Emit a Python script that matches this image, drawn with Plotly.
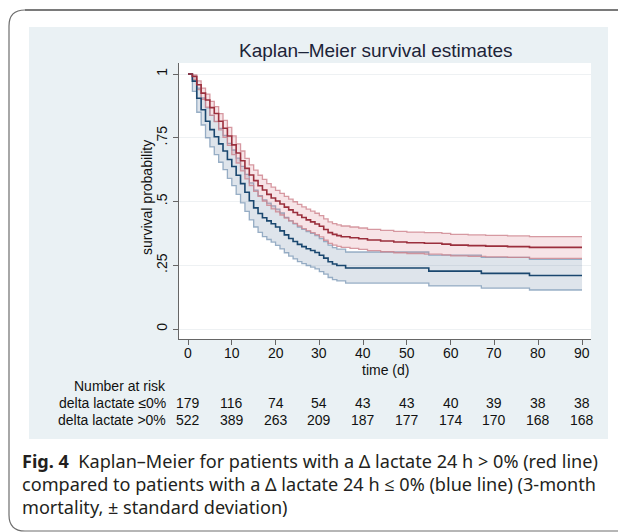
import plotly.graph_objects as go

# ---------------- data ----------------
blue_t = [0, 1, 2, 3, 4, 5, 6, 7, 8, 9, 10, 11, 12, 13, 14, 15, 16, 17, 18, 19, 20,
          21, 22, 23, 24, 25, 26, 27, 28, 29, 30, 31, 32, 33, 34, 36, 55, 67, 78, 90]
blue_s = [1.000, 0.972, 0.905, 0.860, 0.815, 0.782, 0.754, 0.726, 0.698, 0.665, 0.637,
          0.603, 0.570, 0.536, 0.503, 0.475, 0.453, 0.436, 0.424, 0.413, 0.400,
          0.385, 0.369, 0.355, 0.343, 0.332, 0.323, 0.315, 0.308, 0.300, 0.289,
          0.278, 0.264, 0.255, 0.249, 0.239, 0.227, 0.218, 0.210, 0.210]
blue_lo = [1.000, 0.932, 0.850, 0.800, 0.750, 0.714, 0.684, 0.654, 0.625, 0.591, 0.562,
           0.528, 0.495, 0.461, 0.428, 0.400, 0.379, 0.362, 0.351, 0.341, 0.328,
           0.314, 0.299, 0.286, 0.275, 0.264, 0.256, 0.249, 0.243, 0.236, 0.225,
           0.215, 0.202, 0.194, 0.189, 0.180, 0.169, 0.160, 0.153, 0.153]
blue_hi = [1.000, 0.992, 0.945, 0.906, 0.867, 0.838, 0.814, 0.787, 0.759, 0.728, 0.702,
           0.670, 0.638, 0.606, 0.573, 0.545, 0.523, 0.506, 0.494, 0.483, 0.470,
           0.455, 0.438, 0.424, 0.412, 0.400, 0.391, 0.382, 0.375, 0.366, 0.355,
           0.343, 0.329, 0.319, 0.313, 0.302, 0.290, 0.281, 0.273, 0.273]

red_t = [0, 1, 2, 3, 4, 5, 6, 7, 8, 9, 10, 11, 12, 13, 14, 15, 16, 17, 18, 19, 20,
         21, 22, 23, 24, 25, 26, 27, 28, 29, 30, 31, 32, 33, 34, 35, 37, 39, 41, 44,
         47, 50, 54, 58, 60, 64, 68, 73, 78, 90]
red_s = [1.000, 0.990, 0.958, 0.925, 0.898, 0.868, 0.845, 0.815, 0.787, 0.757, 0.722,
         0.690, 0.660, 0.630, 0.604, 0.582, 0.562, 0.545, 0.528, 0.514, 0.502,
         0.490, 0.478, 0.467, 0.457, 0.447, 0.437, 0.428, 0.420, 0.412, 0.403,
         0.390, 0.378, 0.371, 0.366, 0.362, 0.358, 0.354, 0.349, 0.345,
         0.341, 0.338, 0.336, 0.333, 0.329, 0.327, 0.325, 0.323, 0.320, 0.320]
red_lo = [1.000, 0.979, 0.939, 0.901, 0.870, 0.838, 0.813, 0.781, 0.752, 0.720, 0.684,
          0.651, 0.620, 0.589, 0.562, 0.540, 0.520, 0.502, 0.485, 0.471, 0.459,
          0.447, 0.435, 0.424, 0.414, 0.404, 0.394, 0.386, 0.378, 0.370, 0.361,
          0.348, 0.336, 0.329, 0.324, 0.320, 0.316, 0.312, 0.307, 0.303,
          0.299, 0.296, 0.294, 0.291, 0.287, 0.285, 0.283, 0.281, 0.277, 0.277]
red_hi = [1.000, 0.996, 0.973, 0.945, 0.921, 0.893, 0.872, 0.845, 0.818, 0.791, 0.757,
          0.726, 0.698, 0.669, 0.644, 0.623, 0.603, 0.587, 0.570, 0.556, 0.544,
          0.532, 0.520, 0.509, 0.499, 0.489, 0.479, 0.470, 0.462, 0.454, 0.445,
          0.432, 0.420, 0.413, 0.408, 0.404, 0.400, 0.396, 0.391, 0.387,
          0.383, 0.380, 0.378, 0.375, 0.371, 0.369, 0.367, 0.365, 0.362, 0.362]

risk_times = [0, 10, 20, 30, 40, 50, 60, 70, 80, 90]
risk_low = [179, 116, 74, 54, 43, 43, 40, 39, 38, 38]
risk_high = [522, 389, 263, 209, 187, 177, 174, 170, 168, 168]
row_labels = ["delta lactate \u22640%", "delta lactate >0%"]

y_ticks = [0, 0.25, 0.5, 0.75, 1]
y_ticklabels = ["0", ".25", ".5", ".75", "1"]
x_ticks = [0, 10, 20, 30, 40, 50, 60, 70, 80, 90]
x_ticklabels = ["0", "10", "20", "30", "40", "50", "60", "70", "80", "90"]

title_text = "Kaplan\u2013Meier survival estimates"
caption_lines = [
    "<b>Fig. 4</b>  Kaplan\u2013Meier for patients with a \u0394 lactate 24 h > 0% (red line)",
    "compared to patients with a \u0394 lactate 24 h \u2264 0% (blue line) (3-month",
    "mortality, \u00b1 standard deviation)",
]

# ---------------- layout geometry (pixels) ----------------
W_PX, H_PX = 618, 532
L, R, T, B = 179, 591, 63, 339
PW, PH = R - L, B - T


def px(x):
    return (x - L) / PW


def py(y):
    return (B - y) / PH


SANS = "Liberation Sans, Arial, sans-serif"
TXT = "#111111"
FS = 14

BLUE = "#1a476f"
BLUE_EDGE = "rgba(120,150,180,0.75)"
BLUE_FILL = "rgba(90,120,155,0.20)"
RED = "#9b2f3d"
RED_EDGE = "rgba(205,130,140,0.80)"
RED_FILL = "rgba(205,95,110,0.17)"

fig = go.Figure()


def band(t, lo, hi, edge, fill):
    fig.add_trace(go.Scatter(x=t, y=lo, mode="lines", line=dict(color=edge, width=1.3, shape="hv"),
                             hoverinfo="skip", showlegend=False))
    fig.add_trace(go.Scatter(x=t, y=hi, mode="lines", line=dict(color=edge, width=1.3, shape="hv"),
                             fill="tonexty", fillcolor=fill, hoverinfo="skip", showlegend=False))


band(blue_t, blue_lo, blue_hi, BLUE_EDGE, BLUE_FILL)
band(red_t, red_lo, red_hi, RED_EDGE, RED_FILL)

fig.add_trace(go.Scatter(x=blue_t, y=blue_s, mode="lines", line=dict(color=BLUE, width=1.6, shape="hv"),
                         name=row_labels[0], showlegend=False))
fig.add_trace(go.Scatter(x=red_t, y=red_s, mode="lines", line=dict(color=RED, width=1.6, shape="hv"),
                         name=row_labels[1], showlegend=False))

x_range = [-(188 - L) / 4.378, (R - 188) / 4.378]
y_range = [-(B - 329) / 255.0, 1 + (74 - T) / 255.0]

fig.update_layout(
    width=W_PX, height=H_PX,
    margin=dict(l=L, r=W_PX - R, t=T, b=H_PX - B, pad=0),
    paper_bgcolor="white",
    plot_bgcolor="white",
    font=dict(family=SANS, color=TXT, size=FS),
    xaxis=dict(range=x_range, tickmode="array", tickvals=x_ticks, ticks="outside", ticklen=5,
               tickcolor="#666666", showline=True, linecolor="#666666", linewidth=1,
               showticklabels=False, showgrid=False, zeroline=False),
    yaxis=dict(range=y_range, tickmode="array", tickvals=y_ticks, ticktext=y_ticklabels,
               ticks="outside", ticklen=5, tickcolor="#666666", tickangle=-90,
               showline=True, linecolor="#666666", linewidth=1,
               showgrid=True, gridcolor="#eef1f3", gridwidth=1, zeroline=False,
               tickfont=dict(size=FS, family=SANS, color=TXT)),
)

shapes = []
# light bluish graph region
shapes.append(dict(type="rect", xref="paper", yref="paper", x0=px(29), x1=px(608), y0=py(439), y1=py(27),
                   fillcolor="#eaf1f4", line=dict(width=0), layer="below"))
# white plot region
shapes.append(dict(type="rect", xref="paper", yref="paper", x0=px(L), x1=px(R), y0=py(B), y1=py(T),
                   fillcolor="white", line=dict(width=0), layer="below"))
# outer rounded frame (left + bottom)
r = 16
path = (f"M {px(660)},{py(531)} L {px(9 + r)},{py(531)} Q {px(9)},{py(531)} {px(9)},{py(531 - r)} "
        f"L {px(9)},{py(10 + r)} Q {px(9)},{py(10)} {px(9 + r)},{py(10)} L {px(660)},{py(10)}")
shapes.append(dict(type="path", xref="paper", yref="paper", path=path,
                   line=dict(color="#6e6e6e", width=1.2)))
shapes.append(dict(type="line", xref="paper", yref="paper", x0=px(9 + r), x1=px(660), y0=py(10), y1=py(10),
                   line=dict(color="#7a7a7a", width=2.2)))
fig.update_layout(shapes=shapes)

ann = []
ann.append(dict(text=title_text, xref="paper", yref="paper", x=px(376), y=py(50), showarrow=False,
                xanchor="center", yanchor="middle", font=dict(size=19, family=SANS, color="#1c2338")))
ann.append(dict(text="survival probability", xref="paper", yref="paper", x=px(147), y=py(198),
                showarrow=False, textangle=-90, xanchor="center", yanchor="middle",
                font=dict(size=FS, family=SANS, color=TXT)))
for tv, tl in zip(x_ticks, x_ticklabels):
    ann.append(dict(text=tl, xref="x", yref="paper", x=tv, y=py(353), showarrow=False,
                    xanchor="center", yanchor="middle", font=dict(size=FS, family=SANS, color=TXT)))
ann.append(dict(text="time (d)", xref="paper", yref="paper", x=px(385), y=py(370), showarrow=False,
                xanchor="center", yanchor="middle", font=dict(size=FS, family=SANS, color=TXT)))
ann.append(dict(text="Number at risk", xref="paper", yref="paper", x=px(168), y=py(386), showarrow=False,
                xanchor="right", yanchor="middle", font=dict(size=FS, family=SANS, color=TXT)))
for label, row, ypix in [(row_labels[0], risk_low, 403), (row_labels[1], risk_high, 420)]:
    ann.append(dict(text=label, xref="paper", yref="paper", x=px(168), y=py(ypix), showarrow=False,
                    xanchor="right", yanchor="middle", font=dict(size=FS, family=SANS, color=TXT)))
    for tv, n in zip(risk_times, row):
        ann.append(dict(text=str(n), xref="x", yref="paper", x=tv, y=py(ypix), showarrow=False,
                        xanchor="center", yanchor="middle", font=dict(size=FS, family=SANS, color=TXT)))
for line, ypix in zip(caption_lines, [461, 484, 507]):
    ann.append(dict(text=line, xref="paper", yref="paper", x=px(20), y=py(ypix), showarrow=False,
                    xanchor="left", yanchor="middle",
                    font=dict(size=18.1, family="Noto Sans, Open Sans, sans-serif", color="#231f20")))
fig.update_layout(annotations=ann)

fig.write_html("out.html", config={"displayModeBar": False},
               post_script="document.body.style.margin='0';document.body.style.overflow='hidden';")
